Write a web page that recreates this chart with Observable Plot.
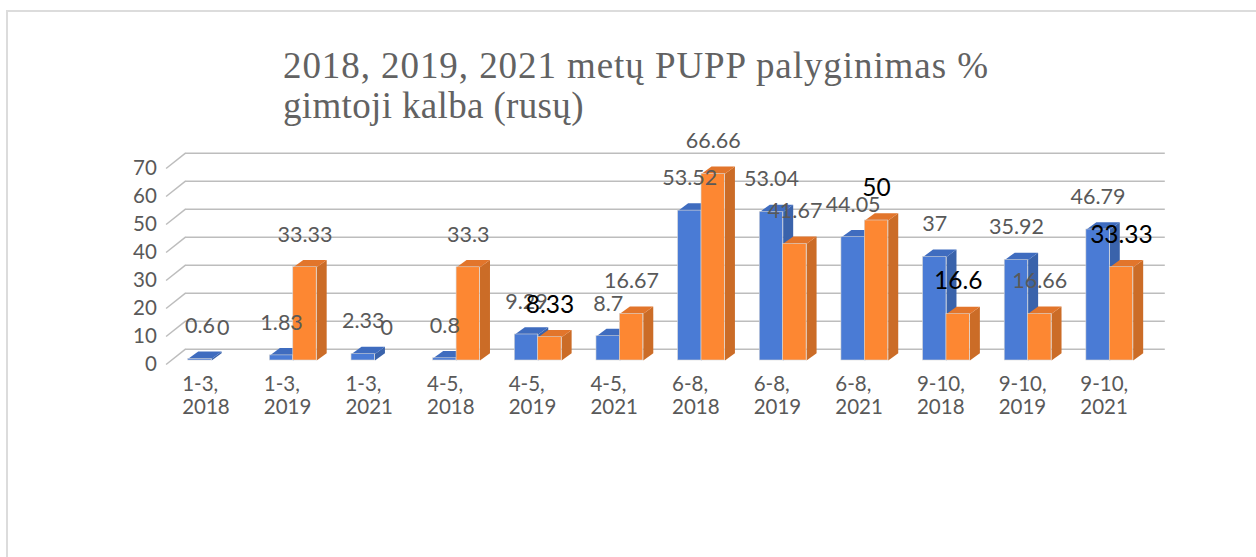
<!DOCTYPE html>
<html lang="lt">
<head>
<meta charset="utf-8">
<script src="https://cdn.jsdelivr.net/npm/d3@7"></script>
<script src="https://cdn.jsdelivr.net/npm/@observablehq/plot@0.6"></script>
<style>
  html, body { margin: 0; padding: 0; background: #fff; }
  #frame { position: relative; width: 1256px; height: 557px; overflow: hidden; }
  #border { position: absolute; left: 6px; top: 10px; right: -4px; bottom: -4px; border-left: 2px solid #dcdcdc; border-top: 2px solid #dcdcdc; }
  #title { position: absolute; left: 283px; top: 46px; margin: 0; font: 400 37px/39.5px "Liberation Serif", serif; color: #626262; white-space: nowrap; }
  #title span { display: block; }
  #title span:nth-child(1) { letter-spacing: 0.93px; }
  #title span:nth-child(2) { letter-spacing: 0.35px; }
  svg { position: absolute; left: 0; top: 0; }
</style>
</head>
<body>
<div id="frame">
  <div id="border"></div>
  <h1 id="title"></h1>
</div>
<script>
const titleLines = ["2018, 2019, 2021 metų PUPP palyginimas %", "gimtoji kalba (rusų)"];
const categories = ["1-3,\n2018", "1-3,\n2019", "1-3,\n2021", "4-5,\n2018", "4-5,\n2019", "4-5,\n2021",
                    "6-8,\n2018", "6-8,\n2019", "6-8,\n2021", "9-10,\n2018", "9-10,\n2019", "9-10,\n2021"];
const blueValues   = [0.6, 1.83, 2.33, 0.8, 9.29, 8.7, 53.52, 53.04, 44.05, 37, 35.92, 46.79];
const orangeValues = [0, 33.33, 0, 33.3, 8.33, 16.67, 66.66, 41.67, 50, 16.6, 16.66, 33.33];
const yTicks = [0, 10, 20, 30, 40, 50, 60, 70];
// orange labels set in the larger black type in the reference, by category index
const blackOrangeLabels = [4, 8, 9, 11];

// Pseudo-3D geometry, in data units of the x and y scales
const barW = 0.2866, depthX = 0.1225, depthY = 2.6;
const wallLeft = -0.32, wallRight = 11.68, tickFront = -0.558;
const wallRise = 4.04, tickDrop = -1.43;

const bars = [
  ...blueValues.map((v, i) => ({i, v, x1: i - barW, x2: i, series: "blue"})),
  ...orangeValues.map((v, i) => ({i, v, x1: i, x2: i + barW, series: "orange"}))
];
const colors = {
  blue:   {front: "#4a7bd5", top: "#3f6cbf", side: "#3a63ab"},
  orange: {front: "#fd8732", top: "#e2752b", side: "#cb6c27"}
};
function faces(series) {
  return bars.filter(b => b.series === series && b.v > 0).flatMap(b => [
    ...[[b.x2, 0], [b.x2 + depthX, depthY], [b.x2 + depthX, b.v + depthY], [b.x2, b.v]]
      .map(([x, y]) => ({x, y, id: b.i + "s", face: colors[series].side})),
    ...[[b.x1, b.v], [b.x2, b.v], [b.x2 + depthX, b.v + depthY], [b.x1 + depthX, b.v + depthY]]
      .map(([x, y]) => ({x, y, id: b.i + "t", face: colors[series].top}))
  ]);
}
const barMarks = series => [
  Plot.line(faces(series), {x: "x", y: "y", z: "id", fill: "face", stroke: null, curve: "linear-closed"}),
  Plot.rectY(bars.filter(b => b.series === series && b.v > 0), {
    x1: "x1", x2: "x2", y1: 0, y2: "v", fill: colors[series].front, stroke: "#d6d6d6", strokeWidth: 0.6
  })
];
const labelFont = "Lato";
const labelMark = (data, fill, fontSize) => Plot.text(data, {
  x: d => (d.x1 + d.x2) / 2, y: "v", text: d => String(d.v), dy: -32.5,
  fill, fontSize, fontFamily: labelFont, textAnchor: "middle", lineAnchor: "middle"
});
const isBlack = b => b.series === "orange" && blackOrangeLabels.includes(b.i);

const chart = Plot.plot({
  width: 1256,
  height: 557,
  marginLeft: 170.3,
  marginRight: 105.9,
  marginTop: 164,
  marginBottom: 197,
  style: {background: "transparent", overflow: "visible"},
  x: {type: "linear", domain: [-0.5, 11.5]},
  y: {type: "linear", domain: [0, 70]},
  marks: [
    Plot.ruleY(yTicks, {y: d => d + wallRise, x1: wallLeft, x2: wallRight, stroke: "#bdbdbd", strokeWidth: 1.5}),
    Plot.link(yTicks, {x1: tickFront, x2: wallLeft, y1: d => d + tickDrop, y2: d => d + wallRise, stroke: "#bdbdbd", strokeWidth: 1.5}),
    ...barMarks("blue"),
    ...barMarks("orange"),
    Plot.axisY({ticks: yTicks, tickSize: 0, tickPadding: 14, dy: 3.7, label: null, fontSize: 20.5, fontFamily: labelFont, color: "#595959"}),
    Plot.axisX({
      ticks: d3.range(categories.length), tickFormat: i => categories[i], tickSize: 0, tickPadding: 13.5,
      textAnchor: "start", dx: -29.5, lineHeight: 1.15, label: null, fontSize: 20.5, fontFamily: labelFont, color: "#595959"
    }),
    labelMark(bars.filter(b => !isBlack(b)), "#595959", 21.5),
    labelMark(bars.filter(isBlack), "#000000", 24.5)
  ]
});
document.getElementById("frame").appendChild(chart);
const titleEl = document.getElementById("title");
titleLines.forEach(line => {
  const s = document.createElement("span");
  s.textContent = line;
  titleEl.appendChild(s);
});
</script>
</body>
</html>
